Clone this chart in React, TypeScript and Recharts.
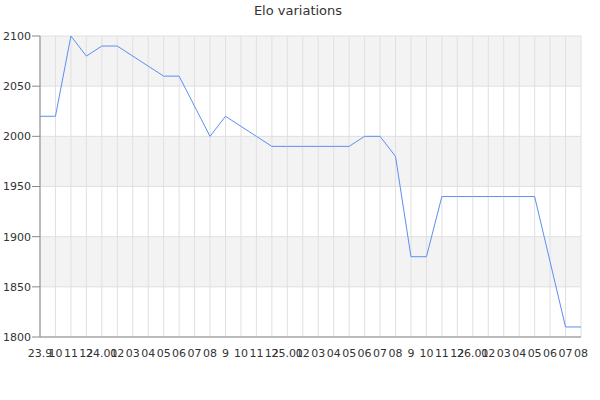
import React from "react";
import { LineChart, Line, XAxis, YAxis, CartesianGrid } from "recharts";

const months = [
  "23.9", "10", "11", "12",
  "24.01", "02", "03", "04", "05", "06", "07", "08", "9", "10", "11", "12",
  "25.01", "02", "03", "04", "05", "06", "07", "08", "9", "10", "11", "12",
  "26.01", "02", "03", "04", "05", "06", "07", "08",
];

const elo = [
  2020, 2020, 2100, 2080, 2090, 2090, 2080, 2070, 2060, 2060, 2030, 2000,
  2020, 2010, 2000, 1990, 1990, 1990, 1990, 1990, 1990, 2000, 2000, 1980,
  1880, 1880, 1940, 1940, 1940, 1940, 1940, 1940, 1940, 1875, 1810, 1810,
];

const majorTicks = [1800, 1850, 1900, 1950, 2000, 2050, 2100];
const minorTicks = [
  1800, 1810, 1820, 1830, 1840, 1850, 1860, 1870, 1880, 1890, 1900, 1910,
  1920, 1930, 1940, 1950, 1960, 1970, 1980, 1990, 2000, 2010, 2020, 2030,
  2040, 2050, 2060, 2070, 2080, 2090, 2100,
];

const data = months.map((m, i) => ({ month: m, elo: elo[i] }));

const font = "'DejaVu Sans', sans-serif";

// short minor tick every 10 points
function MinorTick(props: any) {
  const { x, y } = props;
  return <line x1={x - 4} x2={x} y1={y} y2={y} stroke="#888" />;
}

export default function App() {
  return (
    <div style={{ position: "relative", width: 600, height: 400, fontFamily: font }}>
      <style>{`body{margin:0}`}</style>
      <div style={{ position: "absolute", top: 3, left: 0, width: 596, textAlign: "center", fontSize: 13, color: "#333" }}>
        Elo variations
      </div>
      <LineChart width={600} height={400} data={data} margin={{ top: 36, right: 19, bottom: 33, left: 0 }}>
        <CartesianGrid vertical={false} stroke="none" horizontalFill={["#f3f3f3", "#ffffff"]} />
        <CartesianGrid stroke="#e0e0e0" />
        <XAxis
          dataKey="month"
          interval={0}
          tickLine={false}
          tickMargin={6}
          stroke="#888"
          height={30}
          tick={{ fontSize: 11, fill: "#333", fontFamily: font }}
        />
        <YAxis
          yAxisId="minor"
          domain={[1800, 2100]}
          ticks={minorTicks}
          interval={0}
          tick={<MinorTick />}
          tickLine={false}
          tickSize={0}
          tickMargin={0}
          axisLine={false}
          width={0}
        />
        <YAxis
          domain={[1800, 2100]}
          ticks={majorTicks}
          interval={0}
          tickSize={8}
          tickMargin={1}
          stroke="#888"
          width={40}
          tick={{ fontSize: 11, fill: "#333", fontFamily: font }}
        />
        <Line
          type="linear"
          dataKey="elo"
          stroke="#5b8ff0"
          strokeWidth={1}
          dot={false}
          isAnimationActive={false}
        />
      </LineChart>
    </div>
  );
}
